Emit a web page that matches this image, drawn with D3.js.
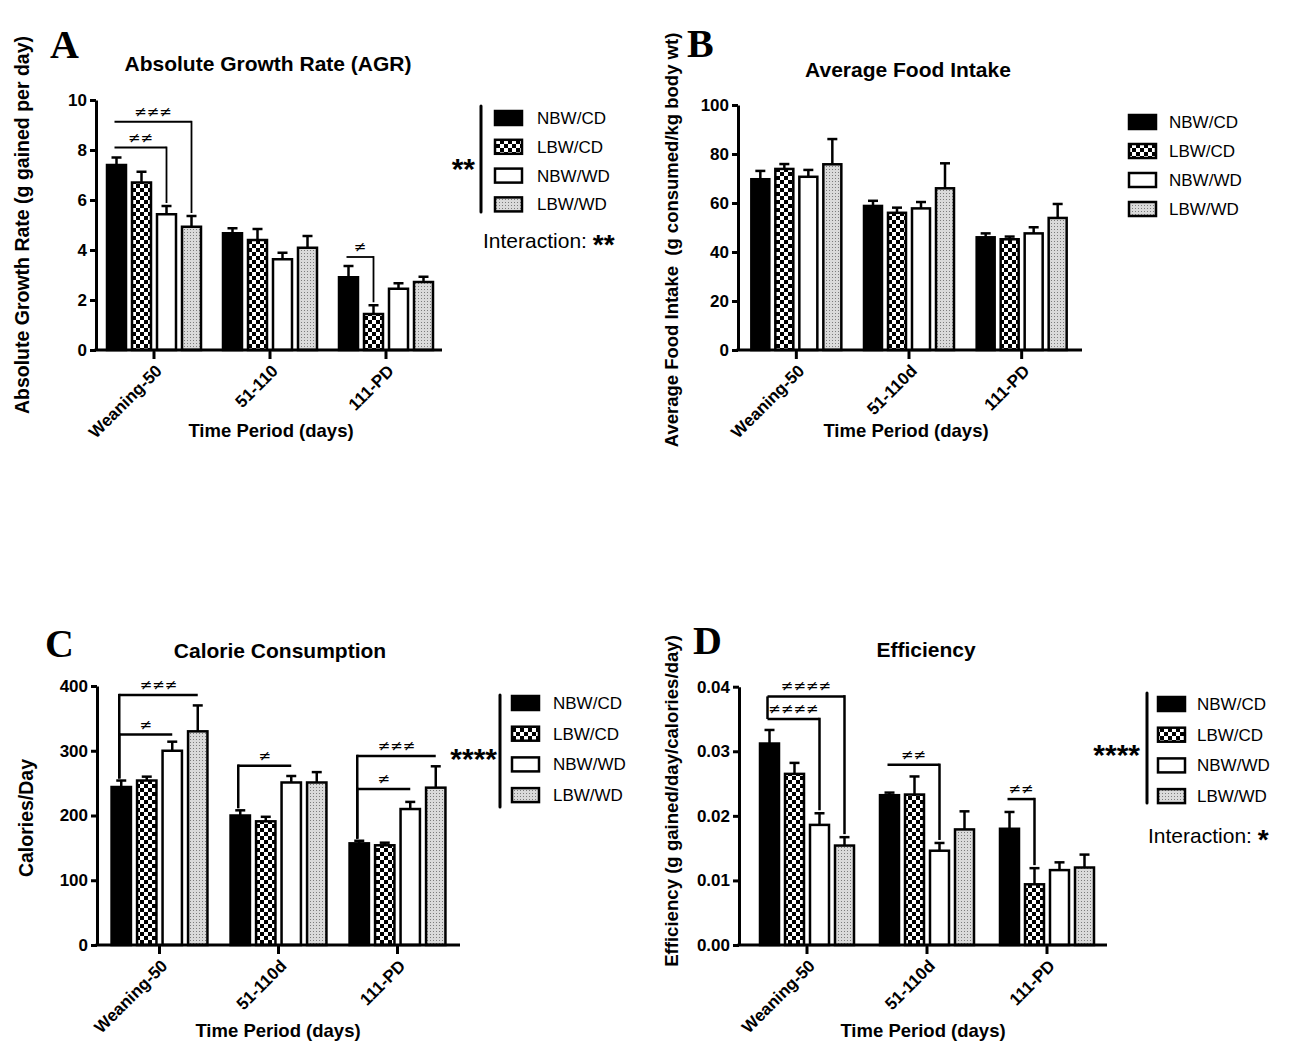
<!DOCTYPE html>
<html>
<head>
<meta charset="utf-8">
<script src="https://cdn.jsdelivr.net/npm/d3@7"></script>
<style>
  body { margin: 0; background: #fff; }
  svg text { font-family: "Liberation Sans", Arial, Helvetica, sans-serif; fill: #000; }
  .tick text { font-size: 17px; font-weight: bold; }
  .ytitle { white-space: pre; }
</style>
</head>
<body>
<div id="chart"></div>
<script>
// DATA
const seriesNames = ["NBW/CD", "LBW/CD", "NBW/WD", "LBW/WD"];
const periodsA = ["Weaning-50", "51-110", "111-PD"];
const periodsBCD = ["Weaning-50", "51-110d", "111-PD"];

// A: absolute growth rate, mean and SEM (rows = period, cols = series)
const agrMean = [[7.4, 6.7, 5.43, 4.93], [4.67, 4.4, 3.63, 4.09], [2.91, 1.44, 2.45, 2.72]];
const agrSem  = [[0.3, 0.43, 0.33, 0.43], [0.2, 0.44, 0.26, 0.47], [0.45, 0.35, 0.22, 0.21]];
const agrTicks = [0, 2, 4, 6, 8, 10];

// B: average food intake
const foodMean = [[69.7, 73.9, 70.7, 75.8], [58.8, 56.0, 57.8, 66.0], [46.0, 45.2, 47.6, 53.9]];
const foodSem  = [[3.4, 2.0, 2.8, 10.3], [2.1, 2.1, 2.6, 10.2], [1.6, 1.1, 2.5, 5.7]];
const foodTicks = [0, 20, 40, 60, 80, 100];

// C: calorie consumption
const calMean = [[244, 254, 300, 330], [200, 191, 251, 251], [157, 154, 210, 243]];
const calSem  = [[10, 6, 14, 40], [8, 7, 10, 16], [4, 4, 11, 33]];
const calTicks = [0, 100, 200, 300, 400];

// D: efficiency
const effMean = [[0.0312, 0.0265, 0.0186, 0.0154], [0.0232, 0.0233, 0.0146, 0.0179], [0.0180, 0.0094, 0.0116, 0.0120]];
const effSem  = [[0.0021, 0.0017, 0.0018, 0.0013], [0.0004, 0.0028, 0.0012, 0.0028], [0.0026, 0.0025, 0.0012, 0.0020]];
const effTicks = [0, 0.01, 0.02, 0.03, 0.04];

// significance brackets (level in data units)
const agrBrackets = [
  { period: 0, from: 0, to: 2, level: 8.1, label: "≠≠" },
  { period: 0, from: 0, to: 3, level: 9.13, label: "≠≠≠" },
  { period: 2, from: 0, to: 1, level: 3.72, label: "≠" }
];
const calBrackets = [
  { period: 0, from: 0, to: 3, level: 386, label: "≠≠≠" },
  { period: 0, from: 0, to: 2, level: 325, label: "≠" },
  { period: 1, from: 0, to: 2, level: 277, label: "≠" },
  { period: 2, from: 0, to: 3, level: 292, label: "≠≠≠" },
  { period: 2, from: 0, to: 2, level: 241, label: "≠" }
];
const effBrackets = [
  { period: 0, from: 0, to: 3, level: 0.0385, label: "≠≠≠≠" },
  { period: 0, from: 0, to: 2, level: 0.0350, label: "≠≠≠≠" },
  { period: 1, from: 0, to: 2, level: 0.0279, label: "≠≠" },
  { period: 2, from: 0, to: 1, level: 0.0226, label: "≠≠" }
];

const svg = d3.select("#chart").append("svg")
    .attr("width", 1295)
    .attr("height", 1046);

// fill patterns
const defs = svg.append("defs");
const checker = defs.append("pattern")
    .attr("id", "checker")
    .attr("patternUnits", "userSpaceOnUse")
    .attr("width", 8).attr("height", 8);
checker.append("rect").attr("width", 8).attr("height", 8).attr("fill", "#fff");
checker.append("rect").attr("width", 4).attr("height", 4).attr("fill", "#000");
checker.append("rect").attr("x", 4).attr("y", 4).attr("width", 4).attr("height", 4).attr("fill", "#000");

const dots = defs.append("pattern")
    .attr("id", "dots")
    .attr("patternUnits", "userSpaceOnUse")
    .attr("width", 3).attr("height", 3);
dots.append("rect").attr("width", 3).attr("height", 3).attr("fill", "#dadada");
dots.append("rect").attr("x", 1).attr("y", 1).attr("width", 1).attr("height", 1).attr("fill", "#7c7c7c");

const seriesFill = ["#000", "url(#checker)", "#fff", "url(#dots)"];

function drawPanel(p) {
    const g = svg.append("g");

    const x0 = d3.scaleBand().domain(p.periods).range(p.band);
    const x1 = d3.scaleBand().domain(seriesNames)
        .range([-2 * p.pitch, 2 * p.pitch])
        .paddingInner(p.gap).paddingOuter(p.gap / 2);
    const y = d3.scaleLinear().domain([0, p.yMax]).range([p.yBottom, p.yTop]);

    const cx = (pi, si) => x0(p.periods[pi]) + x0.bandwidth() / 2 + x1(seriesNames[si]) + x1.bandwidth() / 2;
    const rows = p.mean.flatMap((row, pi) => row.map((v, si) => ({ pi, si, v, e: p.sem[pi][si] })));

    // error bars (upper only)
    g.selectAll(".err").data(rows).join("line")
        .attr("x1", d => cx(d.pi, d.si)).attr("x2", d => cx(d.pi, d.si))
        .attr("y1", d => y(d.v)).attr("y2", d => y(d.v + d.e))
        .attr("stroke", "#000").attr("stroke-width", 2.5);
    g.selectAll(".cap").data(rows).join("line")
        .attr("x1", d => cx(d.pi, d.si) - 5).attr("x2", d => cx(d.pi, d.si) + 5)
        .attr("y1", d => y(d.v + d.e)).attr("y2", d => y(d.v + d.e))
        .attr("stroke", "#000").attr("stroke-width", 2.5);

    // bars
    g.selectAll(".bar").data(rows).join("rect")
        .attr("x", d => cx(d.pi, d.si) - x1.bandwidth() / 2)
        .attr("y", d => y(d.v))
        .attr("width", x1.bandwidth())
        .attr("height", d => y(0) - y(d.v))
        .attr("fill", d => seriesFill[d.si])
        .attr("stroke", "#000")
        .attr("stroke-width", 2.5);

    // y axis
    g.append("g")
        .attr("transform", `translate(${p.axisX},0)`)
        .call(d3.axisLeft(y).tickValues(p.ticks).tickFormat(d3.format(p.fmt)).tickSize(6).tickSizeOuter(0).tickPadding(3))
        .call(a => a.selectAll("path, line").attr("stroke", "#000").attr("stroke-width", 3));

    // x axis
    const xa = g.append("g")
        .attr("transform", `translate(0,${p.yBottom})`)
        .call(d3.axisBottom(x0).tickSize(9).tickSizeOuter(0));
    xa.select(".domain").remove();
    xa.selectAll("line").attr("stroke", "#000").attr("stroke-width", 3);
    xa.selectAll("text")
        .attr("x", null).attr("y", null).attr("dy", null)
        .attr("text-anchor", "end")
        .attr("transform", "translate(9,22) rotate(-45)");
    g.append("line")
        .attr("x1", p.axisX - 1.5).attr("x2", p.axisEnd)
        .attr("y1", p.yBottom).attr("y2", p.yBottom)
        .attr("stroke", "#000").attr("stroke-width", 3);

    // significance brackets
    p.brackets.forEach(b => {
        const xa0 = cx(b.period, b.from) - 2;
        const xb = cx(b.period, b.to);
        const yl = y(b.level);
        g.append("line").attr("x1", xa0).attr("x2", xb).attr("y1", yl).attr("y2", yl)
            .attr("stroke", "#000").attr("stroke-width", p.bw);
        if (p.rightDrop) {
            const yt = y(p.mean[b.period][b.to] + p.sem[b.period][b.to]) - 3;
            g.append("line").attr("x1", xb).attr("x2", xb).attr("y1", yl - p.bw / 2).attr("y2", yt)
                .attr("stroke", "#000").attr("stroke-width", p.bw);
        }
        if (p.leftDrop === "err") {
            const yt = y(p.mean[b.period][b.from] + p.sem[b.period][b.from]) - 2;
            g.append("line").attr("x1", xa0).attr("x2", xa0).attr("y1", yl - p.bw / 2).attr("y2", yt)
                .attr("stroke", "#000").attr("stroke-width", p.bw);
        }
        g.append("text")
            .attr("x", (xa0 + xb) / 2).attr("y", yl - 5)
            .attr("text-anchor", "middle")
            .style("font-family", "'DejaVu Sans', sans-serif")
            .style("font-size", "15px")
            .text(b.label);
    });
    if (p.leftDrop === "join") {
        d3.groups(p.brackets, b => b.period).forEach(([pi, bs]) => {
            if (bs.length < 2) return;
            const xa0 = cx(pi, bs[0].from) - 2;
            g.append("line").attr("x1", xa0).attr("x2", xa0)
                .attr("y1", y(d3.max(bs, b => b.level))).attr("y2", y(d3.min(bs, b => b.level)))
                .attr("stroke", "#000").attr("stroke-width", p.bw);
        });
    }

    // panel letter and title
    g.append("text")
        .attr("x", p.letter[1]).attr("y", p.letter[2])
        .style("font-family", "'Liberation Serif', 'Times New Roman', serif")
        .style("font-weight", "bold").style("font-size", "40px")
        .text(p.letter[0]);
    g.append("text")
        .attr("x", p.titlePos[0]).attr("y", p.titlePos[1])
        .attr("text-anchor", "middle")
        .style("font-weight", "bold").style("font-size", "21px")
        .text(p.title);

    // axis titles
    g.append("text")
        .attr("class", "ytitle")
        .attr("transform", `translate(${p.yTitlePos[0]},${p.yTitlePos[1]}) rotate(-90)`)
        .attr("text-anchor", "middle")
        .style("font-weight", "bold").style("font-size", p.yTitleSize + "px")
        .text(p.yTitle);
    g.append("text")
        .attr("x", p.xTitlePos[0]).attr("y", p.xTitlePos[1])
        .attr("text-anchor", "middle")
        .style("font-weight", "bold").style("font-size", "18.5px")
        .text("Time Period (days)");

    // legend
    const L = p.legend;
    const lg = g.append("g");
    lg.selectAll("rect").data(seriesNames).join("rect")
        .attr("x", L.boxX).attr("y", (d, i) => L.rowY + i * L.step - 7)
        .attr("width", 27).attr("height", 14)
        .attr("fill", (d, i) => seriesFill[i])
        .attr("stroke", "#000").attr("stroke-width", 2.5);
    lg.selectAll("text").data(seriesNames).join("text")
        .attr("x", L.textX).attr("y", (d, i) => L.rowY + i * L.step + 6)
        .style("font-size", "17px")
        .text(d => d);
    if (L.line) {
        lg.append("line")
            .attr("x1", L.line[0]).attr("x2", L.line[0])
            .attr("y1", L.line[1]).attr("y2", L.line[2])
            .attr("stroke", "#000").attr("stroke-width", 3)
            .attr("stroke-linecap", "round");
        lg.append("text")
            .attr("x", L.stars[1]).attr("y", L.stars[2] + 17)
            .attr("text-anchor", "end")
            .style("font-weight", "bold").style("font-size", "30px")
            .text(L.stars[0]);
    }
    if (L.interaction) {
        const t = lg.append("text")
            .attr("x", L.interaction[1]).attr("y", L.interaction[2])
            .style("font-size", "21px");
        t.append("tspan").text("Interaction: ");
        t.append("tspan")
            .attr("dy", 6)
            .style("font-weight", "bold").style("font-size", "28px")
            .text(L.interaction[0]);
    }
}

drawPanel({
    periods: periodsA, mean: agrMean, sem: agrSem, ticks: agrTicks, fmt: "d",
    band: [96, 444], pitch: 25, gap: 0.24, axisX: 96, axisEnd: 442,
    yMax: 10, yTop: 100, yBottom: 350,
    brackets: agrBrackets, bw: 1.8, rightDrop: true, leftDrop: null,
    letter: ["A", 50, 58], title: "Absolute Growth Rate (AGR)", titlePos: [268, 71],
    yTitle: "Absolute Growth Rate (g gained per day)", yTitleSize: 19.5, yTitlePos: [29, 225],
    xTitlePos: [271, 437],
    legend: { boxX: 495, textX: 537, rowY: 118, step: 28.8, line: [481, 106, 212], stars: ["**", 475, 162],
              interaction: ["**", 483, 248] }
});

drawPanel({
    periods: periodsBCD, mean: foodMean, sem: foodSem, ticks: foodTicks, fmt: "d",
    band: [740, 1078], pitch: 24, gap: 0.25, axisX: 738, axisEnd: 1082,
    yMax: 100, yTop: 105, yBottom: 350,
    brackets: [], bw: 2, rightDrop: false, leftDrop: null,
    letter: ["B", 687, 57], title: "Average Food Intake", titlePos: [908, 77],
    yTitle: "Average Food Intake  (g consumed/kg body wt)", yTitleSize: 18.5, yTitlePos: [678, 240],
    xTitlePos: [906, 437],
    legend: { boxX: 1129, textX: 1169, rowY: 122, step: 29 }
});

drawPanel({
    periods: periodsBCD, mean: calMean, sem: calSem, ticks: calTicks, fmt: "d",
    band: [100, 457], pitch: 25.5, gap: 0.24, axisX: 97, axisEnd: 460,
    yMax: 400, yTop: 686, yBottom: 945,
    brackets: calBrackets, bw: 2.5, rightDrop: false, leftDrop: "err",
    letter: ["C", 45, 657], title: "Calorie Consumption", titlePos: [280, 658],
    yTitle: "Calories/Day", yTitleSize: 19.5, yTitlePos: [33, 818],
    xTitlePos: [278, 1037],
    legend: { boxX: 512, textX: 553, rowY: 703, step: 30.7, line: [500, 695, 807], stars: ["****", 497, 752] }
});

drawPanel({
    periods: periodsBCD, mean: effMean, sem: effSem, ticks: effTicks, fmt: ".2f",
    band: [747, 1107], pitch: 25, gap: 0.24, axisX: 739, axisEnd: 1107,
    yMax: 0.04, yTop: 686.7, yBottom: 945,
    brackets: effBrackets, bw: 2.5, rightDrop: true, leftDrop: "join",
    letter: ["D", 693, 654], title: "Efficiency", titlePos: [926, 657],
    yTitle: "Efficiency (g gained/day/calories/day)", yTitleSize: 18.6, yTitlePos: [678, 801],
    xTitlePos: [923, 1037],
    legend: { boxX: 1158, textX: 1197, rowY: 704, step: 30.7, line: [1147, 693, 803], stars: ["****", 1140, 748],
              interaction: ["*", 1148, 843] }
});
</script>
</body>
</html>
